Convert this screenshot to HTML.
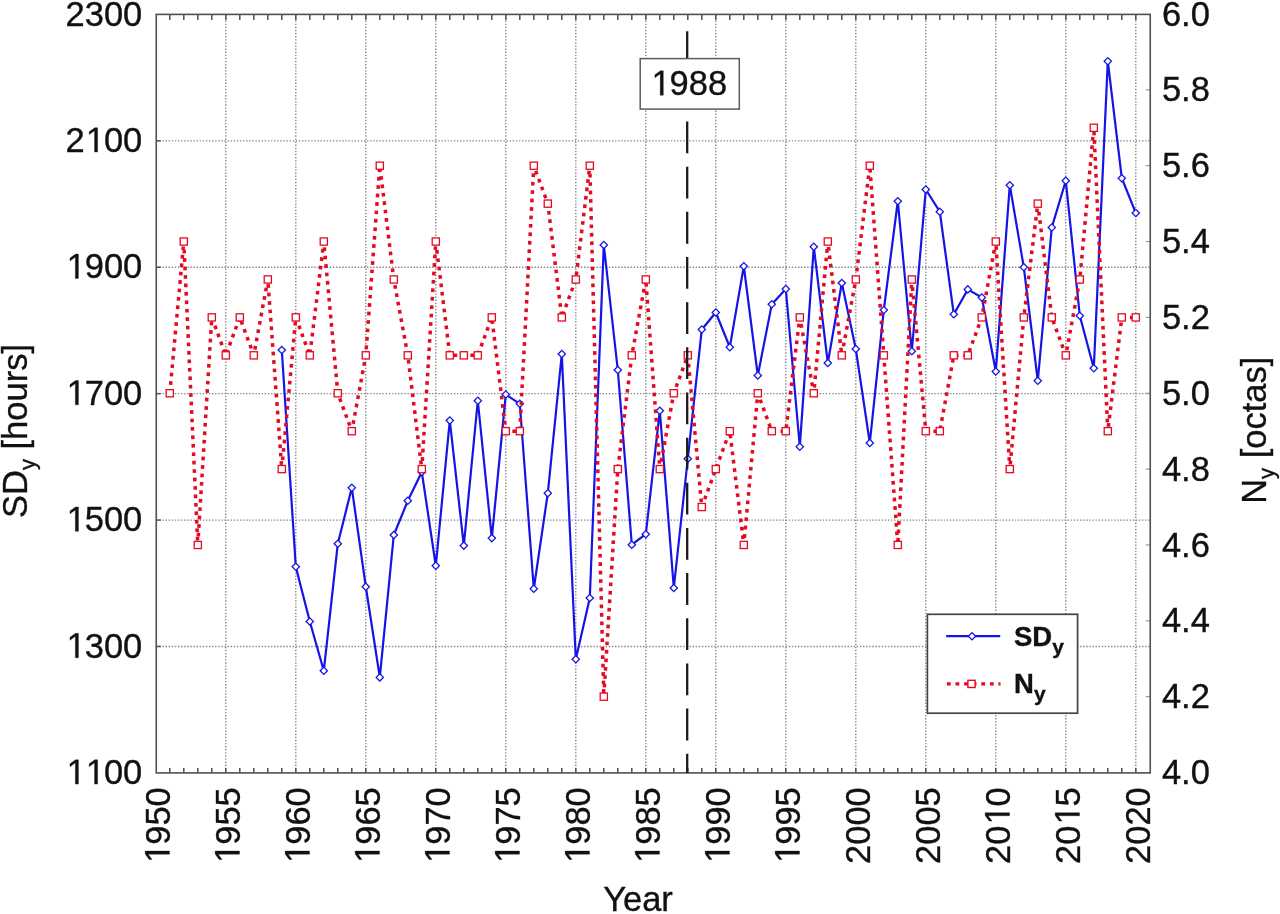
<!DOCTYPE html>
<html><head><meta charset="utf-8"><title>SDy and Ny</title>
<style>html,body{margin:0;padding:0;background:#fff;overflow:hidden;}svg{display:block;will-change:transform;}text{font-family:"Liberation Sans",sans-serif;fill:#111;stroke:#111;stroke-width:0.35px;}</style></head><body>
<svg width="1280" height="914" viewBox="0 0 1280 914">
<rect x="0" y="0" width="1280" height="914" fill="#ffffff"/>
<g stroke="#858585" stroke-width="1.35" stroke-dasharray="1.4 1.7" fill="none">
<line x1="225.80" y1="14.4" x2="225.80" y2="772.9"/>
<line x1="295.80" y1="14.4" x2="295.80" y2="772.9"/>
<line x1="365.80" y1="14.4" x2="365.80" y2="772.9"/>
<line x1="435.80" y1="14.4" x2="435.80" y2="772.9"/>
<line x1="505.80" y1="14.4" x2="505.80" y2="772.9"/>
<line x1="575.80" y1="14.4" x2="575.80" y2="772.9"/>
<line x1="645.80" y1="14.4" x2="645.80" y2="772.9"/>
<line x1="715.80" y1="14.4" x2="715.80" y2="772.9"/>
<line x1="785.80" y1="14.4" x2="785.80" y2="772.9"/>
<line x1="855.80" y1="14.4" x2="855.80" y2="772.9"/>
<line x1="925.80" y1="14.4" x2="925.80" y2="772.9"/>
<line x1="995.80" y1="14.4" x2="995.80" y2="772.9"/>
<line x1="1065.80" y1="14.4" x2="1065.80" y2="772.9"/>
<line x1="1135.80" y1="14.4" x2="1135.80" y2="772.9"/>
<line x1="156.25" y1="646.48" x2="1150.25" y2="646.48"/>
<line x1="156.25" y1="520.07" x2="1150.25" y2="520.07"/>
<line x1="156.25" y1="393.65" x2="1150.25" y2="393.65"/>
<line x1="156.25" y1="267.23" x2="1150.25" y2="267.23"/>
<line x1="156.25" y1="140.82" x2="1150.25" y2="140.82"/>
</g>
<g stroke="#505050" stroke-width="1.5" fill="none">
<line x1="169.80" y1="14.4" x2="169.80" y2="19.9"/>
<line x1="169.80" y1="772.9" x2="169.80" y2="767.9"/>
<line x1="183.80" y1="14.4" x2="183.80" y2="19.9"/>
<line x1="183.80" y1="772.9" x2="183.80" y2="767.9"/>
<line x1="197.80" y1="14.4" x2="197.80" y2="19.9"/>
<line x1="197.80" y1="772.9" x2="197.80" y2="767.9"/>
<line x1="211.80" y1="14.4" x2="211.80" y2="19.9"/>
<line x1="211.80" y1="772.9" x2="211.80" y2="767.9"/>
<line x1="225.80" y1="14.4" x2="225.80" y2="19.9"/>
<line x1="225.80" y1="772.9" x2="225.80" y2="767.9"/>
<line x1="239.80" y1="14.4" x2="239.80" y2="19.9"/>
<line x1="239.80" y1="772.9" x2="239.80" y2="767.9"/>
<line x1="253.80" y1="14.4" x2="253.80" y2="19.9"/>
<line x1="253.80" y1="772.9" x2="253.80" y2="767.9"/>
<line x1="267.80" y1="14.4" x2="267.80" y2="19.9"/>
<line x1="267.80" y1="772.9" x2="267.80" y2="767.9"/>
<line x1="281.80" y1="14.4" x2="281.80" y2="19.9"/>
<line x1="281.80" y1="772.9" x2="281.80" y2="767.9"/>
<line x1="295.80" y1="14.4" x2="295.80" y2="19.9"/>
<line x1="295.80" y1="772.9" x2="295.80" y2="767.9"/>
<line x1="309.80" y1="14.4" x2="309.80" y2="19.9"/>
<line x1="309.80" y1="772.9" x2="309.80" y2="767.9"/>
<line x1="323.80" y1="14.4" x2="323.80" y2="19.9"/>
<line x1="323.80" y1="772.9" x2="323.80" y2="767.9"/>
<line x1="337.80" y1="14.4" x2="337.80" y2="19.9"/>
<line x1="337.80" y1="772.9" x2="337.80" y2="767.9"/>
<line x1="351.80" y1="14.4" x2="351.80" y2="19.9"/>
<line x1="351.80" y1="772.9" x2="351.80" y2="767.9"/>
<line x1="365.80" y1="14.4" x2="365.80" y2="19.9"/>
<line x1="365.80" y1="772.9" x2="365.80" y2="767.9"/>
<line x1="379.80" y1="14.4" x2="379.80" y2="19.9"/>
<line x1="379.80" y1="772.9" x2="379.80" y2="767.9"/>
<line x1="393.80" y1="14.4" x2="393.80" y2="19.9"/>
<line x1="393.80" y1="772.9" x2="393.80" y2="767.9"/>
<line x1="407.80" y1="14.4" x2="407.80" y2="19.9"/>
<line x1="407.80" y1="772.9" x2="407.80" y2="767.9"/>
<line x1="421.80" y1="14.4" x2="421.80" y2="19.9"/>
<line x1="421.80" y1="772.9" x2="421.80" y2="767.9"/>
<line x1="435.80" y1="14.4" x2="435.80" y2="19.9"/>
<line x1="435.80" y1="772.9" x2="435.80" y2="767.9"/>
<line x1="449.80" y1="14.4" x2="449.80" y2="19.9"/>
<line x1="449.80" y1="772.9" x2="449.80" y2="767.9"/>
<line x1="463.80" y1="14.4" x2="463.80" y2="19.9"/>
<line x1="463.80" y1="772.9" x2="463.80" y2="767.9"/>
<line x1="477.80" y1="14.4" x2="477.80" y2="19.9"/>
<line x1="477.80" y1="772.9" x2="477.80" y2="767.9"/>
<line x1="491.80" y1="14.4" x2="491.80" y2="19.9"/>
<line x1="491.80" y1="772.9" x2="491.80" y2="767.9"/>
<line x1="505.80" y1="14.4" x2="505.80" y2="19.9"/>
<line x1="505.80" y1="772.9" x2="505.80" y2="767.9"/>
<line x1="519.80" y1="14.4" x2="519.80" y2="19.9"/>
<line x1="519.80" y1="772.9" x2="519.80" y2="767.9"/>
<line x1="533.80" y1="14.4" x2="533.80" y2="19.9"/>
<line x1="533.80" y1="772.9" x2="533.80" y2="767.9"/>
<line x1="547.80" y1="14.4" x2="547.80" y2="19.9"/>
<line x1="547.80" y1="772.9" x2="547.80" y2="767.9"/>
<line x1="561.80" y1="14.4" x2="561.80" y2="19.9"/>
<line x1="561.80" y1="772.9" x2="561.80" y2="767.9"/>
<line x1="575.80" y1="14.4" x2="575.80" y2="19.9"/>
<line x1="575.80" y1="772.9" x2="575.80" y2="767.9"/>
<line x1="589.80" y1="14.4" x2="589.80" y2="19.9"/>
<line x1="589.80" y1="772.9" x2="589.80" y2="767.9"/>
<line x1="603.80" y1="14.4" x2="603.80" y2="19.9"/>
<line x1="603.80" y1="772.9" x2="603.80" y2="767.9"/>
<line x1="617.80" y1="14.4" x2="617.80" y2="19.9"/>
<line x1="617.80" y1="772.9" x2="617.80" y2="767.9"/>
<line x1="631.80" y1="14.4" x2="631.80" y2="19.9"/>
<line x1="631.80" y1="772.9" x2="631.80" y2="767.9"/>
<line x1="645.80" y1="14.4" x2="645.80" y2="19.9"/>
<line x1="645.80" y1="772.9" x2="645.80" y2="767.9"/>
<line x1="659.80" y1="14.4" x2="659.80" y2="19.9"/>
<line x1="659.80" y1="772.9" x2="659.80" y2="767.9"/>
<line x1="673.80" y1="14.4" x2="673.80" y2="19.9"/>
<line x1="673.80" y1="772.9" x2="673.80" y2="767.9"/>
<line x1="687.80" y1="14.4" x2="687.80" y2="19.9"/>
<line x1="687.80" y1="772.9" x2="687.80" y2="767.9"/>
<line x1="701.80" y1="14.4" x2="701.80" y2="19.9"/>
<line x1="701.80" y1="772.9" x2="701.80" y2="767.9"/>
<line x1="715.80" y1="14.4" x2="715.80" y2="19.9"/>
<line x1="715.80" y1="772.9" x2="715.80" y2="767.9"/>
<line x1="729.80" y1="14.4" x2="729.80" y2="19.9"/>
<line x1="729.80" y1="772.9" x2="729.80" y2="767.9"/>
<line x1="743.80" y1="14.4" x2="743.80" y2="19.9"/>
<line x1="743.80" y1="772.9" x2="743.80" y2="767.9"/>
<line x1="757.80" y1="14.4" x2="757.80" y2="19.9"/>
<line x1="757.80" y1="772.9" x2="757.80" y2="767.9"/>
<line x1="771.80" y1="14.4" x2="771.80" y2="19.9"/>
<line x1="771.80" y1="772.9" x2="771.80" y2="767.9"/>
<line x1="785.80" y1="14.4" x2="785.80" y2="19.9"/>
<line x1="785.80" y1="772.9" x2="785.80" y2="767.9"/>
<line x1="799.80" y1="14.4" x2="799.80" y2="19.9"/>
<line x1="799.80" y1="772.9" x2="799.80" y2="767.9"/>
<line x1="813.80" y1="14.4" x2="813.80" y2="19.9"/>
<line x1="813.80" y1="772.9" x2="813.80" y2="767.9"/>
<line x1="827.80" y1="14.4" x2="827.80" y2="19.9"/>
<line x1="827.80" y1="772.9" x2="827.80" y2="767.9"/>
<line x1="841.80" y1="14.4" x2="841.80" y2="19.9"/>
<line x1="841.80" y1="772.9" x2="841.80" y2="767.9"/>
<line x1="855.80" y1="14.4" x2="855.80" y2="19.9"/>
<line x1="855.80" y1="772.9" x2="855.80" y2="767.9"/>
<line x1="869.80" y1="14.4" x2="869.80" y2="19.9"/>
<line x1="869.80" y1="772.9" x2="869.80" y2="767.9"/>
<line x1="883.80" y1="14.4" x2="883.80" y2="19.9"/>
<line x1="883.80" y1="772.9" x2="883.80" y2="767.9"/>
<line x1="897.80" y1="14.4" x2="897.80" y2="19.9"/>
<line x1="897.80" y1="772.9" x2="897.80" y2="767.9"/>
<line x1="911.80" y1="14.4" x2="911.80" y2="19.9"/>
<line x1="911.80" y1="772.9" x2="911.80" y2="767.9"/>
<line x1="925.80" y1="14.4" x2="925.80" y2="19.9"/>
<line x1="925.80" y1="772.9" x2="925.80" y2="767.9"/>
<line x1="939.80" y1="14.4" x2="939.80" y2="19.9"/>
<line x1="939.80" y1="772.9" x2="939.80" y2="767.9"/>
<line x1="953.80" y1="14.4" x2="953.80" y2="19.9"/>
<line x1="953.80" y1="772.9" x2="953.80" y2="767.9"/>
<line x1="967.80" y1="14.4" x2="967.80" y2="19.9"/>
<line x1="967.80" y1="772.9" x2="967.80" y2="767.9"/>
<line x1="981.80" y1="14.4" x2="981.80" y2="19.9"/>
<line x1="981.80" y1="772.9" x2="981.80" y2="767.9"/>
<line x1="995.80" y1="14.4" x2="995.80" y2="19.9"/>
<line x1="995.80" y1="772.9" x2="995.80" y2="767.9"/>
<line x1="1009.80" y1="14.4" x2="1009.80" y2="19.9"/>
<line x1="1009.80" y1="772.9" x2="1009.80" y2="767.9"/>
<line x1="1023.80" y1="14.4" x2="1023.80" y2="19.9"/>
<line x1="1023.80" y1="772.9" x2="1023.80" y2="767.9"/>
<line x1="1037.80" y1="14.4" x2="1037.80" y2="19.9"/>
<line x1="1037.80" y1="772.9" x2="1037.80" y2="767.9"/>
<line x1="1051.80" y1="14.4" x2="1051.80" y2="19.9"/>
<line x1="1051.80" y1="772.9" x2="1051.80" y2="767.9"/>
<line x1="1065.80" y1="14.4" x2="1065.80" y2="19.9"/>
<line x1="1065.80" y1="772.9" x2="1065.80" y2="767.9"/>
<line x1="1079.80" y1="14.4" x2="1079.80" y2="19.9"/>
<line x1="1079.80" y1="772.9" x2="1079.80" y2="767.9"/>
<line x1="1093.80" y1="14.4" x2="1093.80" y2="19.9"/>
<line x1="1093.80" y1="772.9" x2="1093.80" y2="767.9"/>
<line x1="1107.80" y1="14.4" x2="1107.80" y2="19.9"/>
<line x1="1107.80" y1="772.9" x2="1107.80" y2="767.9"/>
<line x1="1121.80" y1="14.4" x2="1121.80" y2="19.9"/>
<line x1="1121.80" y1="772.9" x2="1121.80" y2="767.9"/>
<line x1="1135.80" y1="14.4" x2="1135.80" y2="19.9"/>
<line x1="1135.80" y1="772.9" x2="1135.80" y2="767.9"/>
<line x1="156.25" y1="646.48" x2="160.75" y2="646.48"/>
<line x1="156.25" y1="520.07" x2="160.75" y2="520.07"/>
<line x1="156.25" y1="393.65" x2="160.75" y2="393.65"/>
<line x1="156.25" y1="267.23" x2="160.75" y2="267.23"/>
<line x1="156.25" y1="140.82" x2="160.75" y2="140.82"/>
</g>
<g stroke="#999" stroke-width="1.2" fill="none">
<line x1="1150.25" y1="696.65" x2="1145.75" y2="696.65"/>
<line x1="1150.25" y1="620.80" x2="1145.75" y2="620.80"/>
<line x1="1150.25" y1="544.95" x2="1145.75" y2="544.95"/>
<line x1="1150.25" y1="469.10" x2="1145.75" y2="469.10"/>
<line x1="1150.25" y1="393.25" x2="1145.75" y2="393.25"/>
<line x1="1150.25" y1="317.40" x2="1145.75" y2="317.40"/>
<line x1="1150.25" y1="241.55" x2="1145.75" y2="241.55"/>
<line x1="1150.25" y1="165.70" x2="1145.75" y2="165.70"/>
<line x1="1150.25" y1="89.85" x2="1145.75" y2="89.85"/>
</g>
<polyline points="281.80,350.00 295.80,566.75 309.80,621.50 323.80,670.80 337.80,543.75 351.80,487.75 365.80,586.75 379.80,677.40 393.80,535.00 407.80,500.75 421.80,472.00 435.80,565.75 449.80,420.50 463.80,545.60 477.80,400.75 491.80,538.10 505.80,394.50 519.80,403.75 533.80,588.75 547.80,493.25 561.80,354.00 575.80,659.25 589.80,598.00 603.80,245.00 617.80,370.00 631.80,544.75 645.80,534.25 659.80,410.75 673.80,588.00 687.80,458.75 701.80,329.50 715.80,312.50 729.80,347.25 743.80,266.25 757.80,375.50 771.80,304.25 785.80,289.00 799.80,446.75 813.80,246.75 827.80,363.00 841.80,283.00 855.80,349.00 869.80,443.00 883.80,310.00 897.80,201.25 911.80,351.25 925.80,189.50 939.80,211.75 953.80,314.25 967.80,289.40 981.80,297.50 995.80,371.50 1009.80,185.25 1023.80,267.25 1037.80,380.75 1051.80,227.50 1065.80,180.75 1079.80,315.75 1093.80,368.25 1107.80,61.20 1121.80,178.25 1135.80,213.00" fill="none" stroke="#1414e6" stroke-width="2.2" stroke-linejoin="miter"/>
<g fill="#fff" stroke="#1414e6" stroke-width="1.3">
<path d="M278.15 350.00L281.80 346.35L285.45 350.00L281.80 353.65Z"/>
<path d="M292.15 566.75L295.80 563.10L299.45 566.75L295.80 570.40Z"/>
<path d="M306.15 621.50L309.80 617.85L313.45 621.50L309.80 625.15Z"/>
<path d="M320.15 670.80L323.80 667.15L327.45 670.80L323.80 674.45Z"/>
<path d="M334.15 543.75L337.80 540.10L341.45 543.75L337.80 547.40Z"/>
<path d="M348.15 487.75L351.80 484.10L355.45 487.75L351.80 491.40Z"/>
<path d="M362.15 586.75L365.80 583.10L369.45 586.75L365.80 590.40Z"/>
<path d="M376.15 677.40L379.80 673.75L383.45 677.40L379.80 681.05Z"/>
<path d="M390.15 535.00L393.80 531.35L397.45 535.00L393.80 538.65Z"/>
<path d="M404.15 500.75L407.80 497.10L411.45 500.75L407.80 504.40Z"/>
<path d="M418.15 472.00L421.80 468.35L425.45 472.00L421.80 475.65Z"/>
<path d="M432.15 565.75L435.80 562.10L439.45 565.75L435.80 569.40Z"/>
<path d="M446.15 420.50L449.80 416.85L453.45 420.50L449.80 424.15Z"/>
<path d="M460.15 545.60L463.80 541.95L467.45 545.60L463.80 549.25Z"/>
<path d="M474.15 400.75L477.80 397.10L481.45 400.75L477.80 404.40Z"/>
<path d="M488.15 538.10L491.80 534.45L495.45 538.10L491.80 541.75Z"/>
<path d="M502.15 394.50L505.80 390.85L509.45 394.50L505.80 398.15Z"/>
<path d="M516.15 403.75L519.80 400.10L523.45 403.75L519.80 407.40Z"/>
<path d="M530.15 588.75L533.80 585.10L537.45 588.75L533.80 592.40Z"/>
<path d="M544.15 493.25L547.80 489.60L551.45 493.25L547.80 496.90Z"/>
<path d="M558.15 354.00L561.80 350.35L565.45 354.00L561.80 357.65Z"/>
<path d="M572.15 659.25L575.80 655.60L579.45 659.25L575.80 662.90Z"/>
<path d="M586.15 598.00L589.80 594.35L593.45 598.00L589.80 601.65Z"/>
<path d="M600.15 245.00L603.80 241.35L607.45 245.00L603.80 248.65Z"/>
<path d="M614.15 370.00L617.80 366.35L621.45 370.00L617.80 373.65Z"/>
<path d="M628.15 544.75L631.80 541.10L635.45 544.75L631.80 548.40Z"/>
<path d="M642.15 534.25L645.80 530.60L649.45 534.25L645.80 537.90Z"/>
<path d="M656.15 410.75L659.80 407.10L663.45 410.75L659.80 414.40Z"/>
<path d="M670.15 588.00L673.80 584.35L677.45 588.00L673.80 591.65Z"/>
<path d="M684.15 458.75L687.80 455.10L691.45 458.75L687.80 462.40Z"/>
<path d="M698.15 329.50L701.80 325.85L705.45 329.50L701.80 333.15Z"/>
<path d="M712.15 312.50L715.80 308.85L719.45 312.50L715.80 316.15Z"/>
<path d="M726.15 347.25L729.80 343.60L733.45 347.25L729.80 350.90Z"/>
<path d="M740.15 266.25L743.80 262.60L747.45 266.25L743.80 269.90Z"/>
<path d="M754.15 375.50L757.80 371.85L761.45 375.50L757.80 379.15Z"/>
<path d="M768.15 304.25L771.80 300.60L775.45 304.25L771.80 307.90Z"/>
<path d="M782.15 289.00L785.80 285.35L789.45 289.00L785.80 292.65Z"/>
<path d="M796.15 446.75L799.80 443.10L803.45 446.75L799.80 450.40Z"/>
<path d="M810.15 246.75L813.80 243.10L817.45 246.75L813.80 250.40Z"/>
<path d="M824.15 363.00L827.80 359.35L831.45 363.00L827.80 366.65Z"/>
<path d="M838.15 283.00L841.80 279.35L845.45 283.00L841.80 286.65Z"/>
<path d="M852.15 349.00L855.80 345.35L859.45 349.00L855.80 352.65Z"/>
<path d="M866.15 443.00L869.80 439.35L873.45 443.00L869.80 446.65Z"/>
<path d="M880.15 310.00L883.80 306.35L887.45 310.00L883.80 313.65Z"/>
<path d="M894.15 201.25L897.80 197.60L901.45 201.25L897.80 204.90Z"/>
<path d="M908.15 351.25L911.80 347.60L915.45 351.25L911.80 354.90Z"/>
<path d="M922.15 189.50L925.80 185.85L929.45 189.50L925.80 193.15Z"/>
<path d="M936.15 211.75L939.80 208.10L943.45 211.75L939.80 215.40Z"/>
<path d="M950.15 314.25L953.80 310.60L957.45 314.25L953.80 317.90Z"/>
<path d="M964.15 289.40L967.80 285.75L971.45 289.40L967.80 293.05Z"/>
<path d="M978.15 297.50L981.80 293.85L985.45 297.50L981.80 301.15Z"/>
<path d="M992.15 371.50L995.80 367.85L999.45 371.50L995.80 375.15Z"/>
<path d="M1006.15 185.25L1009.80 181.60L1013.45 185.25L1009.80 188.90Z"/>
<path d="M1020.15 267.25L1023.80 263.60L1027.45 267.25L1023.80 270.90Z"/>
<path d="M1034.15 380.75L1037.80 377.10L1041.45 380.75L1037.80 384.40Z"/>
<path d="M1048.15 227.50L1051.80 223.85L1055.45 227.50L1051.80 231.15Z"/>
<path d="M1062.15 180.75L1065.80 177.10L1069.45 180.75L1065.80 184.40Z"/>
<path d="M1076.15 315.75L1079.80 312.10L1083.45 315.75L1079.80 319.40Z"/>
<path d="M1090.15 368.25L1093.80 364.60L1097.45 368.25L1093.80 371.90Z"/>
<path d="M1104.15 61.20L1107.80 57.55L1111.45 61.20L1107.80 64.85Z"/>
<path d="M1118.15 178.25L1121.80 174.60L1125.45 178.25L1121.80 181.90Z"/>
<path d="M1132.15 213.00L1135.80 209.35L1139.45 213.00L1135.80 216.65Z"/>
</g>
<polyline points="169.80,393.25 183.80,241.55 197.80,544.95 211.80,317.40 225.80,355.33 239.80,317.40 253.80,355.33 267.80,279.48 281.80,469.10 295.80,317.40 309.80,355.33 323.80,241.55 337.80,393.25 351.80,431.17 365.80,355.33 379.80,165.70 393.80,279.48 407.80,355.33 421.80,469.10 435.80,241.55 449.80,355.33 463.80,355.33 477.80,355.33 491.80,317.40 505.80,431.17 519.80,431.17 533.80,165.70 547.80,203.62 561.80,317.40 575.80,279.48 589.80,165.70 603.80,696.65 617.80,469.10 631.80,355.33 645.80,279.48 659.80,469.10 673.80,393.25 687.80,355.33 701.80,507.02 715.80,469.10 729.80,431.17 743.80,544.95 757.80,393.25 771.80,431.17 785.80,431.17 799.80,317.40 813.80,393.25 827.80,241.55 841.80,355.33 855.80,279.48 869.80,165.70 883.80,355.33 897.80,544.95 911.80,279.48 925.80,431.17 939.80,431.17 953.80,355.33 967.80,355.33 981.80,317.40 995.80,241.55 1009.80,469.10 1023.80,317.40 1037.80,203.62 1051.80,317.40 1065.80,355.33 1079.80,279.48 1093.80,127.77 1107.80,431.17 1121.80,317.40 1135.80,317.40" fill="none" stroke="#e30a22" stroke-width="3.5" stroke-dasharray="3.7 4.75" stroke-linejoin="round"/>
<g fill="#fff" stroke="#e30a22" stroke-width="1.3">
<rect x="166.20" y="389.65" width="7.2" height="7.2"/>
<rect x="180.20" y="237.95" width="7.2" height="7.2"/>
<rect x="194.20" y="541.35" width="7.2" height="7.2"/>
<rect x="208.20" y="313.80" width="7.2" height="7.2"/>
<rect x="222.20" y="351.73" width="7.2" height="7.2"/>
<rect x="236.20" y="313.80" width="7.2" height="7.2"/>
<rect x="250.20" y="351.73" width="7.2" height="7.2"/>
<rect x="264.20" y="275.88" width="7.2" height="7.2"/>
<rect x="278.20" y="465.50" width="7.2" height="7.2"/>
<rect x="292.20" y="313.80" width="7.2" height="7.2"/>
<rect x="306.20" y="351.73" width="7.2" height="7.2"/>
<rect x="320.20" y="237.95" width="7.2" height="7.2"/>
<rect x="334.20" y="389.65" width="7.2" height="7.2"/>
<rect x="348.20" y="427.57" width="7.2" height="7.2"/>
<rect x="362.20" y="351.73" width="7.2" height="7.2"/>
<rect x="376.20" y="162.10" width="7.2" height="7.2"/>
<rect x="390.20" y="275.88" width="7.2" height="7.2"/>
<rect x="404.20" y="351.73" width="7.2" height="7.2"/>
<rect x="418.20" y="465.50" width="7.2" height="7.2"/>
<rect x="432.20" y="237.95" width="7.2" height="7.2"/>
<rect x="446.20" y="351.73" width="7.2" height="7.2"/>
<rect x="460.20" y="351.73" width="7.2" height="7.2"/>
<rect x="474.20" y="351.73" width="7.2" height="7.2"/>
<rect x="488.20" y="313.80" width="7.2" height="7.2"/>
<rect x="502.20" y="427.57" width="7.2" height="7.2"/>
<rect x="516.20" y="427.57" width="7.2" height="7.2"/>
<rect x="530.20" y="162.10" width="7.2" height="7.2"/>
<rect x="544.20" y="200.03" width="7.2" height="7.2"/>
<rect x="558.20" y="313.80" width="7.2" height="7.2"/>
<rect x="572.20" y="275.88" width="7.2" height="7.2"/>
<rect x="586.20" y="162.10" width="7.2" height="7.2"/>
<rect x="600.20" y="693.05" width="7.2" height="7.2"/>
<rect x="614.20" y="465.50" width="7.2" height="7.2"/>
<rect x="628.20" y="351.73" width="7.2" height="7.2"/>
<rect x="642.20" y="275.88" width="7.2" height="7.2"/>
<rect x="656.20" y="465.50" width="7.2" height="7.2"/>
<rect x="670.20" y="389.65" width="7.2" height="7.2"/>
<rect x="684.20" y="351.73" width="7.2" height="7.2"/>
<rect x="698.20" y="503.42" width="7.2" height="7.2"/>
<rect x="712.20" y="465.50" width="7.2" height="7.2"/>
<rect x="726.20" y="427.57" width="7.2" height="7.2"/>
<rect x="740.20" y="541.35" width="7.2" height="7.2"/>
<rect x="754.20" y="389.65" width="7.2" height="7.2"/>
<rect x="768.20" y="427.57" width="7.2" height="7.2"/>
<rect x="782.20" y="427.57" width="7.2" height="7.2"/>
<rect x="796.20" y="313.80" width="7.2" height="7.2"/>
<rect x="810.20" y="389.65" width="7.2" height="7.2"/>
<rect x="824.20" y="237.95" width="7.2" height="7.2"/>
<rect x="838.20" y="351.73" width="7.2" height="7.2"/>
<rect x="852.20" y="275.88" width="7.2" height="7.2"/>
<rect x="866.20" y="162.10" width="7.2" height="7.2"/>
<rect x="880.20" y="351.73" width="7.2" height="7.2"/>
<rect x="894.20" y="541.35" width="7.2" height="7.2"/>
<rect x="908.20" y="275.88" width="7.2" height="7.2"/>
<rect x="922.20" y="427.57" width="7.2" height="7.2"/>
<rect x="936.20" y="427.57" width="7.2" height="7.2"/>
<rect x="950.20" y="351.73" width="7.2" height="7.2"/>
<rect x="964.20" y="351.73" width="7.2" height="7.2"/>
<rect x="978.20" y="313.80" width="7.2" height="7.2"/>
<rect x="992.20" y="237.95" width="7.2" height="7.2"/>
<rect x="1006.20" y="465.50" width="7.2" height="7.2"/>
<rect x="1020.20" y="313.80" width="7.2" height="7.2"/>
<rect x="1034.20" y="200.03" width="7.2" height="7.2"/>
<rect x="1048.20" y="313.80" width="7.2" height="7.2"/>
<rect x="1062.20" y="351.73" width="7.2" height="7.2"/>
<rect x="1076.20" y="275.88" width="7.2" height="7.2"/>
<rect x="1090.20" y="124.17" width="7.2" height="7.2"/>
<rect x="1104.20" y="427.57" width="7.2" height="7.2"/>
<rect x="1118.20" y="313.80" width="7.2" height="7.2"/>
<rect x="1132.20" y="313.80" width="7.2" height="7.2"/>
</g>
<rect x="156.25" y="14.4" width="994.0" height="758.5" fill="none" stroke="#505050" stroke-width="1.6"/>
<line x1="687.2" y1="31.2" x2="687.2" y2="772.9" stroke="#1a1a1a" stroke-width="2.3" stroke-dasharray="31.8 13.36"/>
<rect x="640.2" y="58.6" width="99.1" height="50.5" fill="#fff" stroke="#5c5c5c" stroke-width="1.5"/>
<g transform="translate(688.80,95.20) scale(1,1.025)"><path transform="translate(-38.37,0) scale(0.01685,-0.01685)" d="M582 0V1237L264 1010V1180L597 1409H763V0Z" fill="#111" stroke="#111" stroke-width="20.8"/><text x="-19.19" y="0" font-size="34.5">988</text></g>
<rect x="927.4" y="614.3" width="150.2" height="98.9" fill="#fff" stroke="#444" stroke-width="1.7"/>
<line x1="946.2" y1="636.2" x2="1000.2" y2="636.2" stroke="#1414e6" stroke-width="2.2"/>
<path d="M968.35 636.20L972.00 632.55L975.65 636.20L972.00 639.85Z" fill="#fff" stroke="#1414e6" stroke-width="1.3"/>
<line x1="946.9" y1="683.9" x2="1000.5" y2="683.9" stroke="#e30a22" stroke-width="3.2" stroke-dasharray="3.8 4.8"/>
<rect x="967.90" y="680.30" width="7.2" height="7.2" fill="#fff" stroke="#e30a22" stroke-width="1.4"/>
<text x="1014" y="646.3" font-size="27.5" font-weight="bold">SD<tspan font-size="21" dy="8">y</tspan></text>
<text x="1014" y="693.3" font-size="27.5" font-weight="bold">N<tspan font-size="21" dy="8">y</tspan></text>
<g transform="translate(142.30,784.10) scale(1,1.025)"><path transform="translate(-76.75,0) scale(0.01685,-0.01685)" d="M582 0V1237L264 1010V1180L597 1409H763V0Z" fill="#111" stroke="#111" stroke-width="20.8"/><path transform="translate(-57.56,0) scale(0.01685,-0.01685)" d="M582 0V1237L264 1010V1180L597 1409H763V0Z" fill="#111" stroke="#111" stroke-width="20.8"/><text x="-38.37" y="0" font-size="34.5">00</text></g>
<g transform="translate(142.30,657.68) scale(1,1.025)"><path transform="translate(-76.75,0) scale(0.01685,-0.01685)" d="M582 0V1237L264 1010V1180L597 1409H763V0Z" fill="#111" stroke="#111" stroke-width="20.8"/><text x="-57.56" y="0" font-size="34.5">300</text></g>
<g transform="translate(142.30,531.27) scale(1,1.025)"><path transform="translate(-76.75,0) scale(0.01685,-0.01685)" d="M582 0V1237L264 1010V1180L597 1409H763V0Z" fill="#111" stroke="#111" stroke-width="20.8"/><text x="-57.56" y="0" font-size="34.5">500</text></g>
<g transform="translate(142.30,404.85) scale(1,1.025)"><path transform="translate(-76.75,0) scale(0.01685,-0.01685)" d="M582 0V1237L264 1010V1180L597 1409H763V0Z" fill="#111" stroke="#111" stroke-width="20.8"/><text x="-57.56" y="0" font-size="34.5">700</text></g>
<g transform="translate(142.30,278.43) scale(1,1.025)"><path transform="translate(-76.75,0) scale(0.01685,-0.01685)" d="M582 0V1237L264 1010V1180L597 1409H763V0Z" fill="#111" stroke="#111" stroke-width="20.8"/><text x="-57.56" y="0" font-size="34.5">900</text></g>
<g transform="translate(142.30,152.02) scale(1,1.025)"><text x="-76.75" y="0" font-size="34.5">2</text><path transform="translate(-57.56,0) scale(0.01685,-0.01685)" d="M582 0V1237L264 1010V1180L597 1409H763V0Z" fill="#111" stroke="#111" stroke-width="20.8"/><text x="-38.37" y="0" font-size="34.5">00</text></g>
<g transform="translate(142.30,25.60) scale(1,1.025)"><text x="-76.75" y="0" font-size="34.5">2300</text></g>
<g transform="translate(1161.90,784.10) scale(1,1.025)"><text x="0.00" y="0" font-size="34.5">4.0</text></g>
<g transform="translate(1161.90,708.25) scale(1,1.025)"><text x="0.00" y="0" font-size="34.5">4.2</text></g>
<g transform="translate(1161.90,632.40) scale(1,1.025)"><text x="0.00" y="0" font-size="34.5">4.4</text></g>
<g transform="translate(1161.90,556.55) scale(1,1.025)"><text x="0.00" y="0" font-size="34.5">4.6</text></g>
<g transform="translate(1161.90,480.70) scale(1,1.025)"><text x="0.00" y="0" font-size="34.5">4.8</text></g>
<g transform="translate(1161.90,404.85) scale(1,1.025)"><text x="0.00" y="0" font-size="34.5">5.0</text></g>
<g transform="translate(1161.90,329.00) scale(1,1.025)"><text x="0.00" y="0" font-size="34.5">5.2</text></g>
<g transform="translate(1161.90,253.15) scale(1,1.025)"><text x="0.00" y="0" font-size="34.5">5.4</text></g>
<g transform="translate(1161.90,177.30) scale(1,1.025)"><text x="0.00" y="0" font-size="34.5">5.6</text></g>
<g transform="translate(1161.90,101.45) scale(1,1.025)"><text x="0.00" y="0" font-size="34.5">5.8</text></g>
<g transform="translate(1161.90,25.60) scale(1,1.025)"><text x="0.00" y="0" font-size="34.5">6.0</text></g>
<g transform="translate(169.50,787.20) rotate(-90) scale(1,1.025)"><path transform="translate(-76.75,0) scale(0.01685,-0.01685)" d="M582 0V1237L264 1010V1180L597 1409H763V0Z" fill="#111" stroke="#111" stroke-width="20.8"/><text x="-57.56" y="0" font-size="34.5">950</text></g>
<g transform="translate(239.50,787.20) rotate(-90) scale(1,1.025)"><path transform="translate(-76.75,0) scale(0.01685,-0.01685)" d="M582 0V1237L264 1010V1180L597 1409H763V0Z" fill="#111" stroke="#111" stroke-width="20.8"/><text x="-57.56" y="0" font-size="34.5">955</text></g>
<g transform="translate(309.50,787.20) rotate(-90) scale(1,1.025)"><path transform="translate(-76.75,0) scale(0.01685,-0.01685)" d="M582 0V1237L264 1010V1180L597 1409H763V0Z" fill="#111" stroke="#111" stroke-width="20.8"/><text x="-57.56" y="0" font-size="34.5">960</text></g>
<g transform="translate(379.50,787.20) rotate(-90) scale(1,1.025)"><path transform="translate(-76.75,0) scale(0.01685,-0.01685)" d="M582 0V1237L264 1010V1180L597 1409H763V0Z" fill="#111" stroke="#111" stroke-width="20.8"/><text x="-57.56" y="0" font-size="34.5">965</text></g>
<g transform="translate(449.50,787.20) rotate(-90) scale(1,1.025)"><path transform="translate(-76.75,0) scale(0.01685,-0.01685)" d="M582 0V1237L264 1010V1180L597 1409H763V0Z" fill="#111" stroke="#111" stroke-width="20.8"/><text x="-57.56" y="0" font-size="34.5">970</text></g>
<g transform="translate(519.50,787.20) rotate(-90) scale(1,1.025)"><path transform="translate(-76.75,0) scale(0.01685,-0.01685)" d="M582 0V1237L264 1010V1180L597 1409H763V0Z" fill="#111" stroke="#111" stroke-width="20.8"/><text x="-57.56" y="0" font-size="34.5">975</text></g>
<g transform="translate(589.50,787.20) rotate(-90) scale(1,1.025)"><path transform="translate(-76.75,0) scale(0.01685,-0.01685)" d="M582 0V1237L264 1010V1180L597 1409H763V0Z" fill="#111" stroke="#111" stroke-width="20.8"/><text x="-57.56" y="0" font-size="34.5">980</text></g>
<g transform="translate(659.50,787.20) rotate(-90) scale(1,1.025)"><path transform="translate(-76.75,0) scale(0.01685,-0.01685)" d="M582 0V1237L264 1010V1180L597 1409H763V0Z" fill="#111" stroke="#111" stroke-width="20.8"/><text x="-57.56" y="0" font-size="34.5">985</text></g>
<g transform="translate(729.50,787.20) rotate(-90) scale(1,1.025)"><path transform="translate(-76.75,0) scale(0.01685,-0.01685)" d="M582 0V1237L264 1010V1180L597 1409H763V0Z" fill="#111" stroke="#111" stroke-width="20.8"/><text x="-57.56" y="0" font-size="34.5">990</text></g>
<g transform="translate(799.50,787.20) rotate(-90) scale(1,1.025)"><path transform="translate(-76.75,0) scale(0.01685,-0.01685)" d="M582 0V1237L264 1010V1180L597 1409H763V0Z" fill="#111" stroke="#111" stroke-width="20.8"/><text x="-57.56" y="0" font-size="34.5">995</text></g>
<g transform="translate(869.50,787.20) rotate(-90) scale(1,1.025)"><text x="-76.75" y="0" font-size="34.5">2000</text></g>
<g transform="translate(939.50,787.20) rotate(-90) scale(1,1.025)"><text x="-76.75" y="0" font-size="34.5">2005</text></g>
<g transform="translate(1009.50,787.20) rotate(-90) scale(1,1.025)"><text x="-76.75" y="0" font-size="34.5">20</text><path transform="translate(-38.37,0) scale(0.01685,-0.01685)" d="M582 0V1237L264 1010V1180L597 1409H763V0Z" fill="#111" stroke="#111" stroke-width="20.8"/><text x="-19.19" y="0" font-size="34.5">0</text></g>
<g transform="translate(1079.50,787.20) rotate(-90) scale(1,1.025)"><text x="-76.75" y="0" font-size="34.5">20</text><path transform="translate(-38.37,0) scale(0.01685,-0.01685)" d="M582 0V1237L264 1010V1180L597 1409H763V0Z" fill="#111" stroke="#111" stroke-width="20.8"/><text x="-19.19" y="0" font-size="34.5">5</text></g>
<g transform="translate(1149.50,787.20) rotate(-90) scale(1,1.025)"><text x="-76.75" y="0" font-size="34.5">2020</text></g>
<text x="638" y="911" font-size="34.5" text-anchor="middle">Year</text>
<text transform="translate(27.2,431) rotate(-90)" font-size="34.5" text-anchor="middle">SD<tspan font-size="22" dy="8">y</tspan><tspan dy="-8"> [hours]</tspan></text>
<text transform="translate(1265.9,430.3) rotate(-90)" font-size="34.5" text-anchor="middle">N<tspan font-size="22" dy="8">y</tspan><tspan dy="-8"> [octas]</tspan></text>
</svg></body></html>
